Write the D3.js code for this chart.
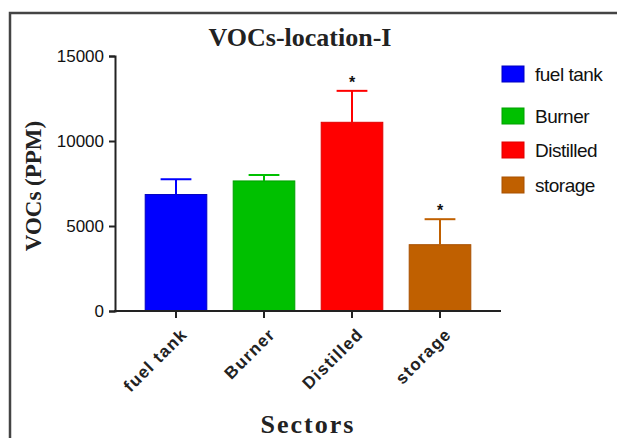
<!DOCTYPE html>
<html>
<head>
<meta charset="utf-8">
<script src="https://cdn.jsdelivr.net/npm/d3@7"></script>
<style>
  body { margin: 0; background: #fff; }
  svg { display: block; }
</style>
</head>
<body>
<div id="chart"></div>
<script>
const categories = ['fuel tank', 'Burner', 'Distilled', 'storage']
const means = [6850, 7650, 11100, 3900]
const errors = [900, 350, 1850, 1500]
const marks = ['', '', '*', '*']
const yTicks = [0, 5000, 10000, 15000]
const colors = ['#0000ff', '#00c000', '#ff0000', '#c06000']
const strokes = ['#0000c0', '#00a000', '#e00000', '#a85000']

const width = 617
const height = 438

const svg = d3.select('#chart').append('svg')
  .attr('width', width)
  .attr('height', height)

// outer frame
svg.append('rect')
  .attr('x', 10).attr('y', 13)
  .attr('width', width + 20).attr('height', height + 20)
  .attr('fill', 'none')
  .attr('stroke', '#444')
  .attr('stroke-width', 2.5)

const x = d3.scaleBand()
  .domain(categories)
  .range([132, 484])
  .paddingInner(0.3)
  .paddingOuter(0.15)

const y = d3.scaleLinear()
  .domain([0, 15000])
  .range([311, 56])

const data = categories.map((c, i) => ({ c, mean: means[i], err: errors[i], mark: marks[i], i }))

// bars
svg.selectAll('rect.bar')
  .data(data)
  .enter()
  .append('rect')
  .attr('class', 'bar')
  .attr('x', d => x(d.c))
  .attr('y', d => y(d.mean))
  .attr('width', x.bandwidth())
  .attr('height', d => y(0) - y(d.mean))
  .attr('fill', d => colors[d.i])
  .attr('stroke', d => strokes[d.i])
  .attr('stroke-width', 1)

// error bars (upper only)
const cx = d => x(d.c) + x.bandwidth() / 2
const capW = x.bandwidth() / 2

svg.selectAll('line.err')
  .data(data)
  .enter()
  .append('line')
  .attr('x1', cx).attr('x2', cx)
  .attr('y1', d => y(d.mean))
  .attr('y2', d => y(d.mean + d.err))
  .attr('stroke', d => colors[d.i])
  .attr('stroke-width', 2)

svg.selectAll('line.cap')
  .data(data)
  .enter()
  .append('line')
  .attr('x1', d => cx(d) - capW / 2).attr('x2', d => cx(d) + capW / 2)
  .attr('y1', d => y(d.mean + d.err))
  .attr('y2', d => y(d.mean + d.err))
  .attr('stroke', d => colors[d.i])
  .attr('stroke-width', 2)

svg.selectAll('text.mark')
  .data(data.filter(d => d.mark))
  .enter()
  .append('text')
  .attr('x', cx)
  .attr('y', d => y(d.mean + d.err) - 3)
  .attr('text-anchor', 'middle')
  .attr('font-family', 'Liberation Sans, Arial, sans-serif')
  .attr('font-weight', 'bold')
  .attr('font-size', '16px')
  .attr('fill', '#111')
  .text(d => d.mark)

// y axis
const yAxis = svg.append('g')
  .attr('transform', 'translate(115,0)')
  .call(d3.axisLeft(y).tickValues(yTicks).tickSize(6).tickPadding(5).tickFormat(d3.format('d')))
yAxis.select('.domain').attr('stroke', '#222').attr('stroke-width', 2)
yAxis.selectAll('.tick line').attr('stroke', '#222').attr('stroke-width', 2)
yAxis.selectAll('.tick text')
  .attr('font-family', 'Liberation Sans, Arial, sans-serif')
  .attr('font-size', '17px')
  .attr('fill', '#111')

// x axis
svg.append('line')
  .attr('x1', 114).attr('x2', 501)
  .attr('y1', y(0)).attr('y2', y(0))
  .attr('stroke', '#222')
  .attr('stroke-width', 2)

const xAxis = svg.append('g')
  .attr('transform', `translate(0,${y(0)})`)
  .call(d3.axisBottom(x).tickSize(7).tickSizeOuter(0))
xAxis.select('.domain').remove()
xAxis.selectAll('.tick line').attr('stroke', '#222').attr('stroke-width', 2)
xAxis.selectAll('.tick text')
  .attr('font-family', 'Liberation Sans, Arial, sans-serif')
  .attr('font-weight', 'bold')
  .attr('font-size', '17px')
  .attr('letter-spacing', '1.3px')
  .attr('fill', '#222')
  .attr('text-anchor', 'end')
  .attr('dy', '0.35em')
  .attr('transform', 'translate(1,13) rotate(-45)')

// title
svg.append('text')
  .attr('x', 300).attr('y', 46)
  .attr('text-anchor', 'middle')
  .attr('font-family', 'Liberation Serif, Times New Roman, serif')
  .attr('font-weight', 'bold')
  .attr('font-size', '26px')
  .attr('fill', '#222')
  .text('VOCs-location-I')

// y label
svg.append('text')
  .attr('transform', 'translate(41,186) rotate(-90)')
  .attr('text-anchor', 'middle')
  .attr('font-family', 'Liberation Serif, Times New Roman, serif')
  .attr('font-weight', 'bold')
  .attr('font-size', '23px')
  .attr('fill', '#222')
  .text('VOCs (PPM)')

// x label
svg.append('text')
  .attr('x', 308).attr('y', 433)
  .attr('text-anchor', 'middle')
  .attr('font-family', 'Liberation Serif, Times New Roman, serif')
  .attr('font-weight', 'bold')
  .attr('font-size', '26px')
  .attr('letter-spacing', '2px')
  .attr('fill', '#222')
  .text('Sectors')

// legend
const legendY = [74, 116, 150, 185]
const legend = svg.selectAll('g.legend')
  .data(data)
  .enter()
  .append('g')
  .attr('transform', d => `translate(502,${legendY[d.i]})`)

legend.append('rect')
  .attr('x', 0).attr('y', -8)
  .attr('width', 22).attr('height', 16)
  .attr('fill', d => colors[d.i])
  .attr('stroke', d => strokes[d.i])
  .attr('stroke-width', 1)

legend.append('text')
  .attr('x', 33).attr('y', 0)
  .attr('dy', '0.35em')
  .attr('font-family', 'Liberation Sans, Arial, sans-serif')
  .attr('font-size', '19px')
  .attr('letter-spacing', '-0.5px')
  .attr('fill', '#111')
  .text(d => d.c)
</script>
</body>
</html>
